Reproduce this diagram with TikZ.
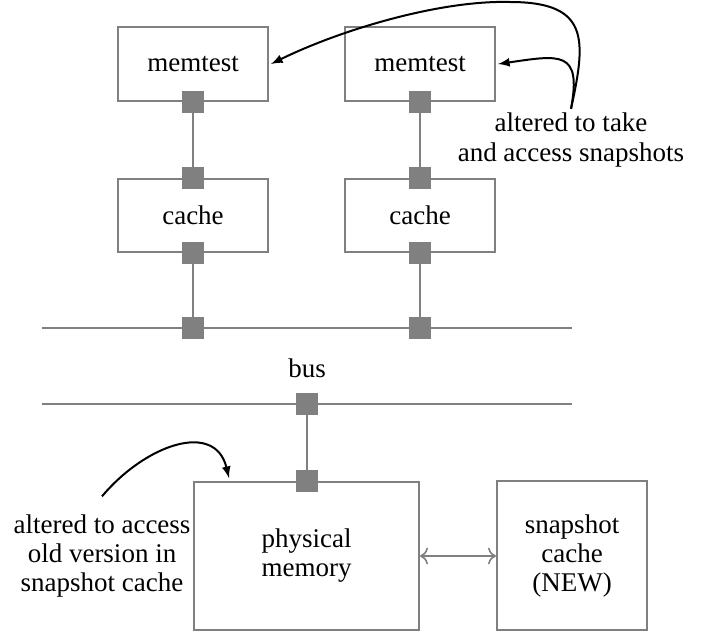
\documentclass[tikz,border=0pt]{standalone}
\usepackage{fontspec}
\setmainfont{Liberation Serif}
\usetikzlibrary{calc}
\usetikzlibrary{positioning}
\usetikzlibrary{arrows.meta}

\tikzset{
  unit/.style={draw=gray, line width=1pt, minimum width=75pt, minimum height=37pt, align=center, inner sep=0pt},
  port/.style={fill=gray, minimum size=11pt, inner sep=0pt},
  wire/.style={gray, line width=1pt},
  note/.style={align=center, inner sep=2pt},
}

\begin{document}
\begin{tikzpicture}[x=0.5pt, y=-0.5pt, >=latex, font=\fontsize{13.5}{14.5}\selectfont]
      \useasboundingbox (0,0) rectangle (706,633);
      \node[unit] (mt1) at (193,64) {memtest};
      \node[unit] (mt2) at (420,64) {memtest};
      \node[unit, minimum height=36.5pt] (c1) at (193,215.5) {cache};
      \node[unit, minimum height=36.5pt] (c2) at (420,215.5) {cache};
      \node[unit, minimum width=112.5pt, minimum height=74pt] (phys) at (306.5,556) {physical\\memory};
      \node[unit, minimum height=74.5pt] (snap) at (572,555.5) {snapshot\\cache\\(NEW)};
      \coordinate (bt1) at (42,328);
      \coordinate (bt2) at (572,328);
      \coordinate (bb1) at (42,404);
      \coordinate (bb2) at (572,404);
      \draw[wire] (bt1) -- (bt2);
      \draw[wire] (bb1) -- (bb2);
      \node (bus) at (307,368) {bus};
      \node[port] (mt1p) at (mt1.south) {};
      \node[port] (mt2p) at (mt2.south) {};
      \node[port] (c1pt) at (c1.north) {};
      \node[port] (c2pt) at (c2.north) {};
      \node[port] (c1pb) at (c1.south) {};
      \node[port] (c2pb) at (c2.south) {};
      \node[port] (bt1p) at (bt1 -| c1.south) {};
      \node[port] (bt2p) at (bt1 -| c2.south) {};
      \node[port] (bbp) at (bb1 -| phys.north) {};
      \node[port] (physp) at (phys.north) {};
      \draw[wire] (mt1p) -- (c1pt);
      \draw[wire] (mt2p) -- (c2pt);
      \draw[wire] (c1pb) -- (bt1p);
      \draw[wire] (c2pb) -- (bt2p);
      \draw[wire] (bbp) -- (physp);
      \draw[wire, line width=0.8pt, {To[length=4pt]}-{To[length=4pt]}] (phys.east) -- (phys.east -| snap.west);
      \node[note] (tnote) at (571,140) {altered to take\\and access snapshots};
      \node[note] (lnote) at (102,556) {altered to access\\old version in\\snapshot cache};
      \draw[->, line width=1pt] (tnote.north) .. controls (586,40) and (590,2) .. (510,2) .. controls (440,0) and (340,30) .. ([xshift=1pt]mt1.east);
      \draw[->, line width=1pt] (tnote.north) .. controls (582,50) and (560,55) .. ([xshift=1pt]mt2.east);
      \draw[->, line width=1pt] ([yshift=7pt]lnote.north) .. controls (145,445) and (215,420) .. ([xshift=18pt,yshift=1.5pt]phys.north west);
    \end{tikzpicture}
\end{document}
